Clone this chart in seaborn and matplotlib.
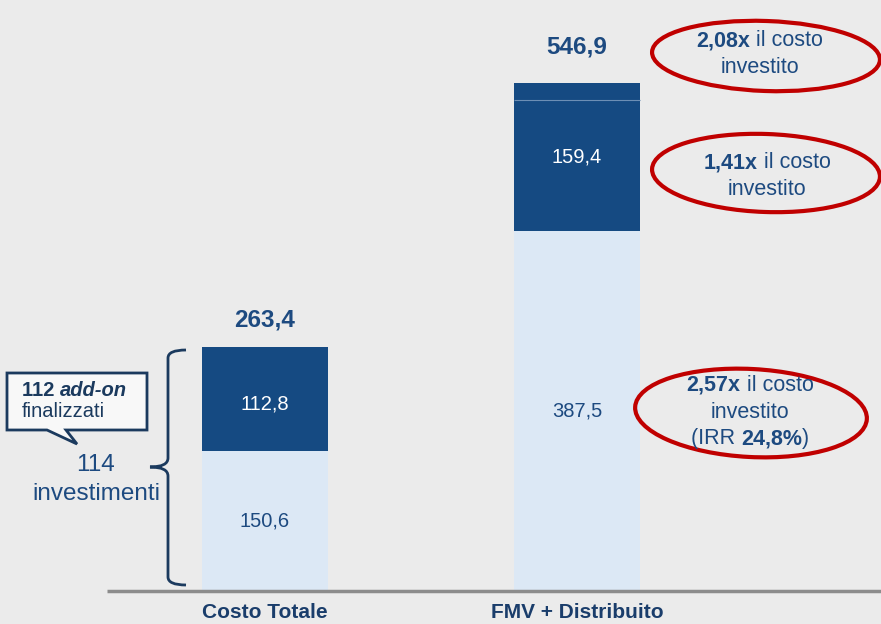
import matplotlib
matplotlib.use("Agg")
import matplotlib.pyplot as plt
import matplotlib.transforms as mtransforms
from matplotlib.patches import Ellipse, PathPatch
from matplotlib.path import Path
from matplotlib.offsetbox import TextArea, HPacker, VPacker, AnnotationBbox
import numpy as np
import pandas as pd
import seaborn as sns

# data
categories = ["Costo Totale", "FMV + Distribuito"]
base_values = [150.6, 387.5]      # light part
mid_values = [112.8, 142.0]       # dark part
top_values = [0.0, 17.4]          # thin top slice (bar 2)
mid_labels = ["112,8", "159,4"]
base_labels = ["150,6", "387,5"]
total_labels = ["263,4", "546,9"]

BG = "#ebebeb"
DARK = "#154a82"
LIGHT = "#dce8f5"
TXT = "#1d4a80"
NAVY = "#1b3a5e"
RED = "#c00000"
FONT = ["Liberation Sans", "DejaVu Sans"]

sns.set_theme(style="white")
plt.rcParams["font.family"] = FONT

W, H = 881, 624
fig = plt.figure(figsize=(W / 100, H / 100), dpi=100, facecolor=BG)
ax = fig.add_axes([0, 33 / H, 1, 1 - 33 / H])
ax.set_facecolor(BG)

base = np.array(base_values)
mid = np.array(mid_values)
top = np.array(top_values)
df = pd.DataFrame({"cat": categories, "total": base + mid + top,
                   "lower2": base + mid, "base": base})

bw = 126 / 312
sns.barplot(data=df, x="cat", y="total", color=DARK, width=bw, linewidth=0,
            saturation=1, ax=ax)
sns.barplot(data=df, x="cat", y="lower2", color=DARK, width=bw, linewidth=0,
            saturation=1, ax=ax)
sns.barplot(data=df, x="cat", y="base", color=LIGHT, width=bw, linewidth=0,
            saturation=1, ax=ax)

# thin divider where the top slice sits
for i, t in enumerate(top):
    if t > 0:
        ax.hlines(base[i] + mid[i], i - bw / 2, i + bw / 2, color="#6d8fb5", lw=0.8, zorder=5)

ax.set_xlim(-265 / 312, (W - 265) / 312)
ax.set_ylim(0, 591 / 0.928)
ax.hlines(0, (107 - 265) / 312, (W - 265) / 312, color="#8c8c8c", lw=2.5, clip_on=False, zorder=6)
for s in ax.spines.values():
    s.set_visible(False)
ax.set_yticks([])
ax.set_xlabel("")
ax.set_ylabel("")
ax.tick_params(axis="x", length=0, pad=9)
ax.set_xticks(range(len(categories)))
ax.set_xticklabels(categories, fontsize=15, fontweight="bold", color="#1a3d6b")

for i in range(len(categories)):
    ax.text(i, base[i] / 2, base_labels[i], ha="center", va="center", fontsize=14.5, color=TXT)
    ax.text(i, base[i] + (mid[i] + top[i]) / 2 - (12 if i == 0 else 0) * 0.5, mid_labels[i],
            ha="center", va="center", fontsize=14.5, color="white")
    ax.annotate(total_labels[i], (i, base[i] + mid[i] + top[i]), xytext=(0, 11 if i == 0 else 18),
                textcoords="offset points", ha="center", va="bottom", fontsize=17.5,
                fontweight="bold", color=TXT)

# pixel transform (origin top-left)
pxt = mtransforms.Affine2D().scale(1 / W, -1 / H).translate(0, 1) + fig.transFigure


def px2fig(x, y):
    return (x / W, 1 - y / H)


def rich_block(cx, cy, lines, size=15.5):
    rows = []
    for parts in lines:
        kids = [TextArea(t, textprops=dict(fontsize=size, color=TXT, fontweight=w,
                                           fontstyle=st, family=FONT))
                for t, w, st in parts]
        rows.append(HPacker(children=kids, pad=0, sep=0, align="baseline"))
    box = VPacker(children=rows, pad=0, sep=4, align="center")
    ab = AnnotationBbox(box, px2fig(cx, cy), xycoords="figure fraction", frameon=False,
                        box_alignment=(0.5, 0.5))
    fig.add_artist(ab)


# red ellipses
for cx, cy, w, h, ang in [(766, 56, 228, 70, -2), (766, 173, 228, 78, -2), (751, 413, 232, 88, -3)]:
    fig.add_artist(Ellipse((cx, cy), w, h, angle=-ang, transform=pxt, fill=False,
                           ec=RED, lw=3))

rich_block(760, 54, [[("2,08x", "bold", "normal"), (" il costo", "normal", "normal")],
                     [("investito", "normal", "normal")]])
rich_block(767, 176, [[("1,41x", "bold", "normal"), (" il costo", "normal", "normal")],
                      [("investito", "normal", "normal")]])
rich_block(750, 412, [[("2,57x", "bold", "normal"), (" il costo", "normal", "normal")],
                      [("investito", "normal", "normal")],
                      [("(IRR ", "normal", "normal"), ("24,8%", "bold", "normal"),
                       (")", "normal", "normal")]])

# curly brace
verts = [(186, 350), (168, 350), (168, 358),
         (168, 458),
         (168, 467), (150, 467),
         (168, 467), (168, 476),
         (168, 577),
         (168, 585), (186, 585)]
codes = [Path.MOVETO, Path.CURVE3, Path.CURVE3, Path.LINETO, Path.CURVE3, Path.CURVE3,
         Path.CURVE3, Path.CURVE3, Path.LINETO, Path.CURVE3, Path.CURVE3]
fig.add_artist(PathPatch(Path(verts, codes), transform=pxt, fill=False, ec=NAVY, lw=2))

fig.text(96 / W, 1 - 465 / H, "114", ha="center", va="center", fontsize=17.5, color=TXT)
fig.text(96 / W, 1 - 494 / H, "investimenti", ha="center", va="center", fontsize=17.5, color=TXT)

# speech bubble
bub = [(7, 373), (147, 373), (147, 430), (66, 430), (77, 444), (47, 430), (7, 430), (7, 373)]
bcodes = [Path.MOVETO] + [Path.LINETO] * 6 + [Path.CLOSEPOLY]
fig.add_artist(PathPatch(Path(bub, bcodes), transform=pxt, fc="#f8f8f8", ec=NAVY, lw=2))
row1 = HPacker(children=[TextArea("112 ", textprops=dict(fontsize=14.5, color=NAVY, fontweight="bold", family=FONT)),
                         TextArea("add-on", textprops=dict(fontsize=14.5, color=NAVY, fontweight="bold",
                                                           fontstyle="italic", family=FONT))],
               pad=0, sep=0, align="baseline")
row2 = TextArea("finalizzati", textprops=dict(fontsize=14.5, color=NAVY, family=FONT))
fig.add_artist(AnnotationBbox(VPacker(children=[row1, row2], pad=0, sep=1, align="left"),
                              px2fig(22, 401), xycoords="figure fraction", frameon=False,
                              box_alignment=(0, 0.5)))

fig.savefig("out.png", dpi=100, facecolor=BG)
